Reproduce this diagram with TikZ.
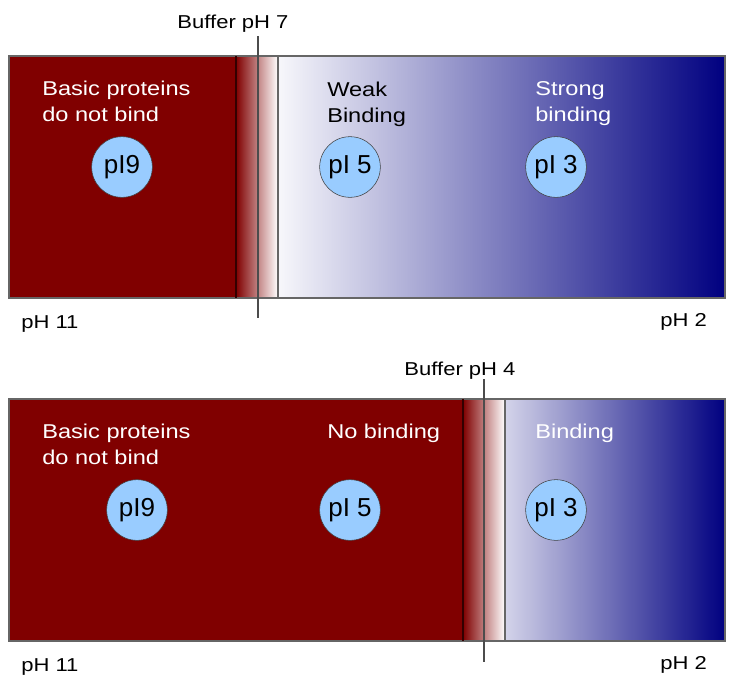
\documentclass[tikz,border=0pt]{standalone}
\usepackage{fontspec}
\setmainfont{Liberation Sans}
\newfontfamily\labelfont{Liberation Sans}[FakeStretch=1.18]
\usepackage{tikz}
\usetikzlibrary{positioning, calc}
\definecolor{BarRed}{HTML}{800000}
\definecolor{BarNavy}{HTML}{000080}
\definecolor{DotBlue}{HTML}{99CCFF}
\definecolor{EdgeGrey}{HTML}{666666}
\tikzstyle{pcircle} = [circle, draw=black!75, fill=DotBlue, minimum size=45.5pt, inner sep=0pt, font=\fontsize{19.5}{22}\selectfont]
\tikzstyle{zonelabel} = [anchor=north west, inner sep=0pt, align=left, font=\labelfont\fontsize{15}{19.5}\selectfont]
\tikzstyle{phlabel} = [anchor=base west, inner sep=0pt, font=\labelfont\fontsize{14}{16}\selectfont]
\tikzstyle{bufferline} = [draw=black!70, line width=0.8pt]
\tikzstyle{edge} = [draw=EdgeGrey, line width=0.9pt]

\begin{document}
\begin{tikzpicture}[x=0.75pt, y=-0.75pt]
        \useasboundingbox (0,0) rectangle (729,676);

        % --- column at buffer pH 7 ---
        \fill [BarRed] (9,56) rectangle (236,298);
        \shade [left color=BarRed, right color=white] (236,56) rectangle (278,298);
        \shade [left color=BarNavy!3, right color=BarNavy] (278,56) rectangle (725,298);
        \draw [edge] (9,56) rectangle (725,298);
        \draw [black!60!BarRed, line width=0.9pt] (236,56) -- (236,298);
        \draw [edge] (278,56) -- (278,298);

        \node [zonelabel, text=white] (basic7) at (42,81) {Basic proteins\\do not bind};
        \node [zonelabel, text=black] (weak7) at (327,82) {Weak\\Binding};
        \node [zonelabel, text=white] (strong7) at (535,81) {Strong\\binding};

        \node [pcircle] (pinine7) at (122,167) {pI9};
        \node [pcircle] (pifive7) at (350,167) {pI 5};
        \node [pcircle] (pithree7) at (556,167) {pI 3};

        \node [phlabel, anchor=base] (buffer7) at (233,28) {Buffer pH 7};
        \coordinate (cut7top) at (258,36);
        \coordinate (cut7bot) at (258,318);
        \draw [bufferline] (cut7top) -- (cut7bot);

        \node [phlabel] (phhigh7) at (21,328) {pH 11};
        \node [phlabel] (phlow7) at (660,326) {pH 2};

        % --- column at buffer pH 4 ---
        \fill [BarRed] (9,399) rectangle (463,641);
        \shade [left color=BarRed, right color=white] (463,399) rectangle (505,641);
        \shade [left color=BarNavy!17, right color=BarNavy] (505,399) rectangle (725,641);
        \draw [edge] (9,399) rectangle (725,641);
        \draw [black!60!BarRed, line width=0.9pt] (463,399) -- (463,641);
        \draw [edge] (505,399) -- (505,641);

        \node [zonelabel, text=white] (basic4) at (42,424) {Basic proteins\\do not bind};
        \node [zonelabel, text=white] (nobind4) at (327,424) {No binding};
        \node [zonelabel, text=white] (bind4) at (535,424) {Binding};

        \node [pcircle] (pinine4) at (137,510) {pI9};
        \node [pcircle] (pifive4) at (350,510) {pI 5};
        \node [pcircle] (pithree4) at (556,510) {pI 3};

        \node [phlabel, anchor=base] (buffer4) at (460,375) {Buffer pH 4};
        \coordinate (cut4top) at (484,379);
        \coordinate (cut4bot) at (484,662);
        \draw [bufferline] (cut4top) -- (cut4bot);

        \node [phlabel] (phhigh4) at (21,671) {pH 11};
        \node [phlabel] (phlow4) at (660,669) {pH 2};
    \end{tikzpicture}
\end{document}
